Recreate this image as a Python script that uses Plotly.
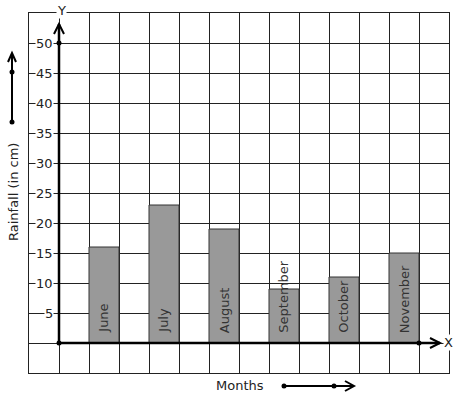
import plotly.graph_objects as go

# ---- data ----
months = ["June", "July", "August", "September", "October", "November"]
rainfall = [16, 23, 19, 9, 11, 15]
y_ticks = [5, 10, 15, 20, 25, 30, 35, 40, 45, 50]
y_tick_labels = [str(t) for t in y_ticks]
y_title = "Rainfall (in cm)"
x_title = "Months"

# ---- layout geometry ----
W, H = 457, 399
L, R, T, B = 29, 8, 13, 26
PW, PH = W - L - R, H - T - B
FONT = "DejaVu Sans"


def px(x):
    return (x - L) / PW


def py(y):
    return (H - B - y) / PH


bar_x = [2.5 + 2 * i for i in range(len(months))]

fig = go.Figure(
    go.Bar(
        x=bar_x,
        y=rainfall,
        width=1,
        marker=dict(color="#999999", line=dict(color="#333333", width=1)),
        hoverinfo="skip",
    )
)

axis_common = dict(
    showgrid=True,
    gridcolor="#222222",
    gridwidth=1,
    showticklabels=False,
    ticks="",
    zeroline=False,
    showline=True,
    linecolor="#222222",
    linewidth=1,
    mirror=True,
    fixedrange=True,
)
fig.update_xaxes(range=[0, 14], dtick=1, tick0=0, **axis_common)
fig.update_yaxes(range=[-5, 55], dtick=5, tick0=0, **axis_common)

shapes = []


def line(x0, y0, x1, y1, w=2.5):
    shapes.append(dict(type="line", xref="paper", yref="paper",
                       x0=px(x0), y0=py(y0), x1=px(x1), y1=py(y1),
                       line=dict(color="black", width=w)))


def path(pts, w=2.5):
    d = "M " + " L ".join(f"{px(a)},{py(b)}" for a, b in pts)
    shapes.append(dict(type="path", xref="paper", yref="paper", path=d,
                       line=dict(color="black", width=w)))


def dot(x, y, r=2.5):
    shapes.append(dict(type="circle", xref="paper", yref="paper",
                       x0=px(x - r), x1=px(x + r), y0=py(y + r), y1=py(y - r),
                       fillcolor="black", line=dict(color="black", width=0)))


# main axes
line(59, 343, 59, 24)
path([(54, 34), (59, 24), (64, 34)], 2)
line(59, 343, 440, 343)
path([(430, 338), (440, 343), (430, 348)], 2)
dot(59, 343)
dot(59, 43)
dot(419, 343)

# left arrow
line(12, 122, 12, 53, 2)
path([(8, 62), (12, 53), (16, 62)], 2)
dot(12, 122)
dot(12, 72)

# bottom arrow
line(284, 386, 354, 386, 2)
path([(345, 381), (354, 386), (345, 391)], 2)
dot(284, 386)
dot(334, 386)

annotations = []
for t, lab in zip(y_ticks, y_tick_labels):
    annotations.append(dict(x=0.83, y=t, xref="x", yref="y", text=lab,
                            showarrow=False, xanchor="right", yanchor="middle",
                            bgcolor="white", borderpad=0,
                            font=dict(family=FONT, size=13, color="#222222")))

for xv, m in zip(bar_x, months):
    annotations.append(dict(x=xv, y=1.3, xref="x", yref="y", text=m,
                            showarrow=False, textangle=-90,
                            xanchor="center", yanchor="bottom",
                            font=dict(family=FONT, size=13, color="#333333")))


def label(x, y, text, angle=0, bg=None):
    d = dict(x=px(x), y=py(y), xref="paper", yref="paper", text=text,
             showarrow=False, textangle=angle, xanchor="center", yanchor="middle",
             font=dict(family=FONT, size=13, color="#222222"))
    if bg:
        d.update(bgcolor=bg, borderpad=0)
    annotations.append(d)


label(61, 10, "Y", bg="white")
label(448, 342, "X", bg="white")
label(13, 192, y_title, angle=-90)
label(240, 385, x_title)

fig.update_layout(
    width=W, height=H,
    margin=dict(l=L, r=R, t=T, b=B, pad=0, autoexpand=False),
    paper_bgcolor="white", plot_bgcolor="white",
    showlegend=False,
    shapes=shapes,
    annotations=annotations,
    font=dict(family=FONT),
)

fig.write_html(
    "out.html",
    config={"displayModeBar": False, "staticPlot": True},
    post_script="document.body.style.margin='0';document.body.style.overflow='hidden';",
)
